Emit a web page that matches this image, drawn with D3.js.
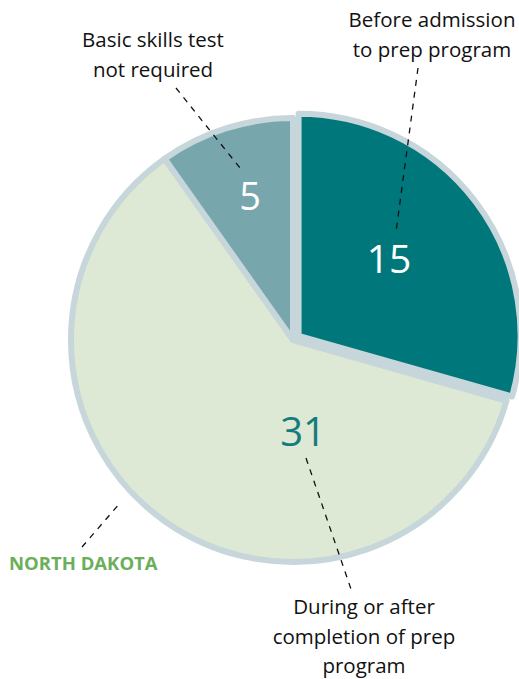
<!DOCTYPE html>
<html><head><meta charset="utf-8">
<script src="https://cdn.jsdelivr.net/npm/d3@7"></script>
<style>body{margin:0;background:#fff}svg{display:block}text{font-family:"Open Sans",sans-serif}</style>
</head><body><svg id="c" width="519" height="679"></svg>
<script>
const categories = ["Before admission to prep program","During or after completion of prep program","Basic skills test not required"];
const values = [15, 31, 5];
const colors = ["#00777b", "#dde9d5", "#77a6ac"];
const labelColors = ["#ffffff", "#147c7e", "#ffffff"];
const title = "NORTH DAKOTA";

const svg = d3.select("#c");
const cx = 293, cy = 340, R = 222;
const g = svg.append("g").attr("transform", `translate(${cx},${cy})`);
const pie = d3.pie().sort(null).value(d => d)(values);
const arc = d3.arc().innerRadius(0).outerRadius(R);
const explode = [7, 0, 0];

g.selectAll("path").data(pie).join("path")
  .attr("d", arc)
  .attr("fill", (d,i) => colors[i])
  .attr("stroke", "#c6d6da").attr("stroke-width", 6).attr("stroke-linejoin","round")
  .attr("transform", (d,i) => {
    const a = (d.startAngle + d.endAngle) / 2;
    return `translate(${Math.sin(a)*explode[i]},${-Math.cos(a)*explode[i]})`;
  });

// value labels
const valPos = [[389, 273], [303, 446], [250, 210]];
const valSize = [39, 40, 38];
pie.forEach((d,i) => {
  g.append("text").attr("x", valPos[i][0]-cx).attr("y", valPos[i][1]-cy)
   .attr("text-anchor","middle").attr("font-size", valSize[i])
   .attr("fill", labelColors[i]).text(values[i]);
});

// leader lines
const leaders = [[[418,68],[396,232]], [[306,458],[352,592]], [[176,88],[240,168]], [[82,547],[120,503]]];
svg.selectAll("line.l").data(leaders).join("line")
  .attr("x1", d=>d[0][0]).attr("y1", d=>d[0][1]).attr("x2", d=>d[1][0]).attr("y2", d=>d[1][1])
  .attr("stroke","#111").attr("stroke-width",1.3).attr("stroke-dasharray","6,6");

// category labels
const catLines = [["Before admission","to prep program"],["During or after","completion of prep","program"],["Basic skills test","not required"]];
const catPos = [[432, 27], [364, 614], [153, 47]];
catLines.forEach((lines,i) => {
  const t = svg.append("text").attr("text-anchor","middle").attr("font-size",20.5).attr("fill","#111");
  lines.forEach((s,j) => t.append("tspan").attr("x", catPos[i][0]).attr("y", catPos[i][1] + j*29.5).text(s));
});

svg.append("text").attr("x", 9).attr("y", 570).attr("font-size", 18.5).attr("font-weight","bold")
  .attr("fill","#6bae5c").text(title);
</script></body></html>
